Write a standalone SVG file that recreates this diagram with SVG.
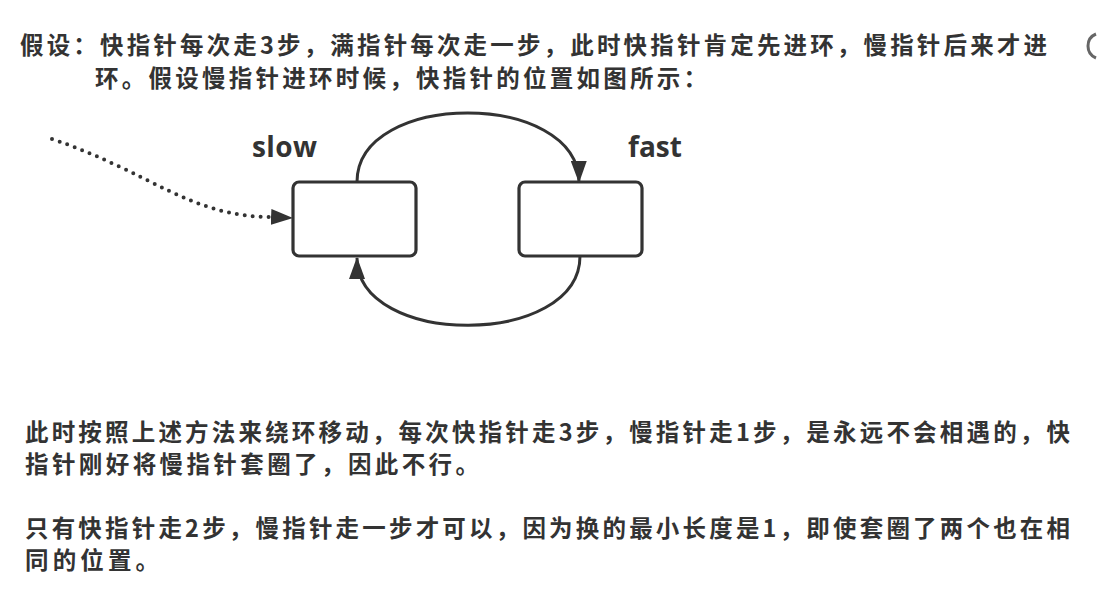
<svg xmlns="http://www.w3.org/2000/svg" width="1098" height="592" viewBox="0 0 1098 592">
<style>
.t{font-family:"Microsoft YaHei","Noto Sans CJK SC","Noto Sans",sans-serif;font-weight:bold;font-size:23.5px;fill:#333}
.lbl{font-family:"Open Sans","Noto Sans",sans-serif;font-weight:bold;font-size:28px;fill:#333}
.box{fill:#fff;stroke:#333;stroke-width:3.2}
.edge{fill:none;stroke:#333;stroke-width:3}
.dot{fill:none;stroke:#333;stroke-width:4;stroke-linecap:round;stroke-dasharray:0 8}
</style>
<defs>
<marker id="ah" markerUnits="userSpaceOnUse" markerWidth="22" markerHeight="16" refX="21" refY="8" orient="auto">
<path d="M0,0 L22,8 L0,16 z" fill="#333"/>
</marker>
</defs>
<rect width="1098" height="592" fill="#fff"/>
<g id="header-text">
<text class="t" x="20" y="54" textLength="1027">假设：快指针每次走3步，满指针每次走一步，此时快指针肯定先进环，慢指针后来才进</text>
<text class="t" x="95" y="87" textLength="612">环。假设慢指针进环时候，快指针的位置如图所示：</text>
</g>
<path d="M1096,34 A13,13 0 0 0 1096,58" fill="none" stroke="#666" stroke-width="3"/>
<g id="connectors">
<path class="dot" d="M52,139 C150,172 190,217 272,217 L292,218" marker-end="url(#ah)"/>
<path class="edge" d="M357,182 C357,90 578,90 579,182" marker-end="url(#ah)"/>
<path class="edge" d="M580,256 C580,348 357,348 357,258" marker-end="url(#ah)"/>
</g>
<g id="node-slow">
<rect class="box" x="293" y="182" width="123" height="74" rx="6"/>
<text class="lbl" x="252" y="157" textLength="65">slow</text>
</g>
<g id="node-fast">
<rect class="box" x="519" y="182" width="123" height="74" rx="6"/>
<text class="lbl" x="628" y="157" textLength="54">fast</text>
</g>
<g id="body-text">
<text class="t" x="25" y="441" textLength="1045">此时按照上述方法来绕环移动，每次快指针走3步，慢指针走1步，是永远不会相遇的，快</text>
<text class="t" x="25" y="473" textLength="454">指针刚好将慢指针套圈了，因此不行。</text>
<text class="t" x="25" y="537" textLength="1045">只有快指针走2步，慢指针走一步才可以，因为换的最小长度是1，即使套圈了两个也在相</text>
<text class="t" x="25" y="569" textLength="134">同的位置。</text>
</g>
</svg>
